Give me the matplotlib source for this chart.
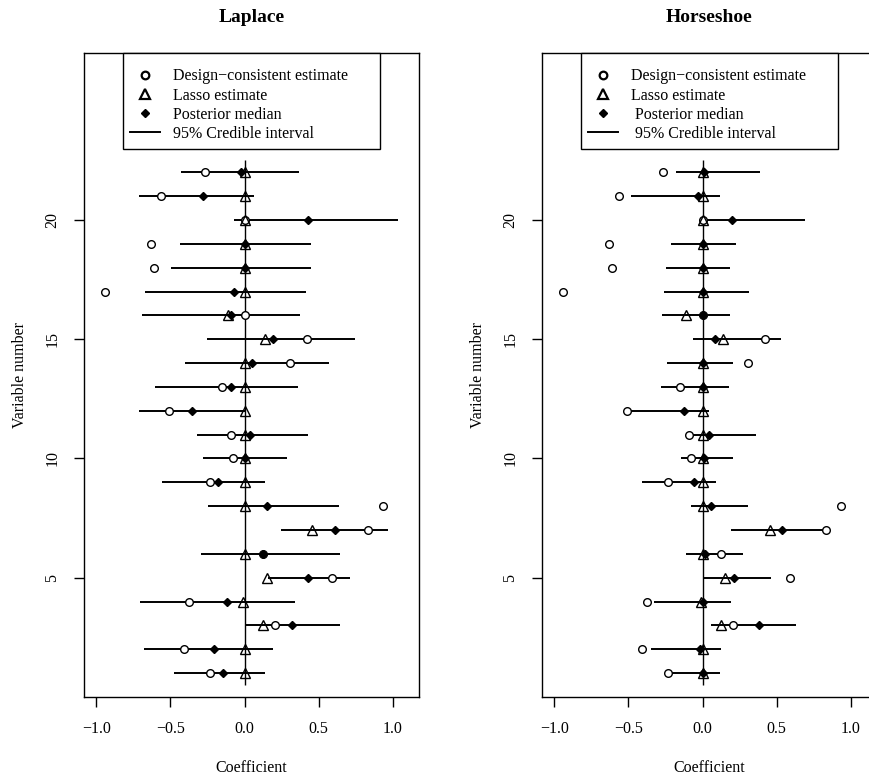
import matplotlib
matplotlib.use("Agg")
import matplotlib.pyplot as plt
from matplotlib.lines import Line2D
import numpy as np

plt.rcParams['font.family'] = ['Liberation Serif', 'DejaVu Serif']

variables = np.arange(1, 23)

# design-consistent and lasso estimates (same in both panels)
design = [-0.234, -0.407, 0.206, -0.378, 0.593, 0.125, 0.835, 0.935, -0.230, -0.081,
          -0.092, -0.512, -0.151, 0.308, 0.420, 0.0, -0.939, -0.610, -0.634, 0.0,
          -0.561, -0.270]
lasso = [0.0, 0.0, 0.127, -0.010, 0.154, 0.0, 0.458, 0.0, 0.0, 0.0,
         0.0, 0.0, 0.0, 0.0, 0.137, -0.115, 0.0, 0.0, 0.0, 0.0,
         0.0, 0.0]

laplace_median = [-0.146, -0.209, 0.323, -0.121, 0.426, 0.128, 0.608, 0.153, -0.180, 0.0,
                  0.040, -0.352, -0.094, 0.047, 0.195, -0.092, -0.074, 0.0, 0.005, 0.426,
                  -0.283, -0.027]
laplace_lower = [-0.476, -0.680, 0.004, -0.703, 0.157, -0.296, 0.247, -0.245, -0.557, -0.281,
                 -0.319, -0.712, -0.602, -0.404, -0.251, -0.691, -0.671, -0.494, -0.435, -0.072,
                 -0.712, -0.431]
laplace_upper = [0.137, 0.191, 0.642, 0.343, 0.714, 0.642, 0.970, 0.638, 0.137, 0.287,
                 0.427, 0.0, 0.361, 0.568, 0.743, 0.377, 0.413, 0.451, 0.449, 1.039,
                 0.067, 0.366]

horseshoe_median = [0.0, -0.018, 0.378, 0.0, 0.211, 0.016, 0.537, 0.056, -0.058, 0.007,
                    0.047, -0.126, 0.0, 0.0, 0.086, 0.0, 0.0, 0.0, 0.0, 0.196,
                    -0.031, 0.009]
horseshoe_lower = [-0.238, -0.346, 0.058, -0.328, 0.009, -0.110, 0.193, -0.079, -0.407, -0.146,
                   -0.097, -0.490, -0.283, -0.240, -0.067, -0.276, -0.263, -0.245, -0.211, -0.013,
                   -0.486, -0.182]
horseshoe_upper = [0.119, 0.124, 0.632, 0.189, 0.461, 0.276, 0.829, 0.310, 0.092, 0.204,
                   0.362, 0.043, 0.182, 0.209, 0.531, 0.187, 0.315, 0.187, 0.227, 0.690,
                   0.115, 0.387]

xticks = [-1.0, -0.5, 0.0, 0.5, 1.0]
xticklabels = ['\u22121.0', '\u22120.5', '0.0', '0.5', '1.0']
yticks = [5, 10, 15, 20]

FS = 11.5

fig = plt.figure(figsize=(8.7, 7.78), dpi=100)


def draw_panel(rect, title, median, lower, upper, labels):
    ax = fig.add_axes(rect)
    ax.vlines(0, 0.5, 22.5, color='black', lw=1.0, zorder=1)
    ax.hlines(variables, lower, upper, color='black', lw=1.4, zorder=2)
    ax.plot(design, variables, 'o', ms=5.5, mfc='white', mec='black', mew=1.0, ls='none', zorder=3)
    ax.plot(lasso, variables, '^', ms=7.5, mfc='none', mec='black', mew=1.0, ls='none', zorder=4)
    ax.plot(median, variables, 'D', ms=3.8, color='black', ls='none', zorder=5)

    ax.set_xlim(-1.084, 1.178)
    ax.set_ylim(0, 27)
    ax.set_xticks(xticks)
    ax.set_xticklabels(xticklabels)
    ax.set_yticks(yticks)
    ax.set_yticklabels([str(t) for t in yticks], rotation=90, va='center')
    ax.tick_params(direction='out', length=7, width=1, labelsize=FS, pad=10, color='black')
    for sp in ax.spines.values():
        sp.set_linewidth(1.0)
    ax.set_title(title, fontsize=14, fontweight='bold', pad=22)
    ax.set_xlabel('Coefficient', fontsize=FS, labelpad=17)
    ax.set_ylabel('Variable number', fontsize=FS, labelpad=12)

    handles = [
        Line2D([], [], marker='o', ms=5.5, mfc='white', mec='black', mew=1.6, ls='none'),
        Line2D([], [], marker='^', ms=7.5, mfc='none', mec='black', mew=1.6, ls='none'),
        Line2D([], [], marker='D', ms=3.8, color='black', ls='none'),
        Line2D([], [], color='black', lw=1.4),
    ]
    leg = ax.legend(handles, labels, loc='upper left', bbox_to_anchor=(0.116, 1.0, 0.767, 0.0),
                    mode='expand', fontsize=FS, frameon=True, fancybox=False,
                    edgecolor='black', framealpha=1, borderpad=0.45, handlelength=1.9,
                    handletextpad=0.8, labelspacing=0.2, borderaxespad=0,
                    title=' ', title_fontsize=4)
    leg.get_frame().set_linewidth(1.0)
    return ax


draw_panel([84 / 870, 81 / 778, 335 / 870, 644 / 778], 'Laplace',
           laplace_median, laplace_lower, laplace_upper,
           ['Design\u2212consistent estimate', 'Lasso estimate', 'Posterior median',
            '95% Credible interval'])
draw_panel([542 / 870, 81 / 778, 335 / 870, 644 / 778], 'Horseshoe',
           horseshoe_median, horseshoe_lower, horseshoe_upper,
           ['Design\u2212consistent estimate', 'Lasso estimate', ' Posterior median',
            ' 95% Credible interval'])

fig.savefig('out.png', dpi=100)
